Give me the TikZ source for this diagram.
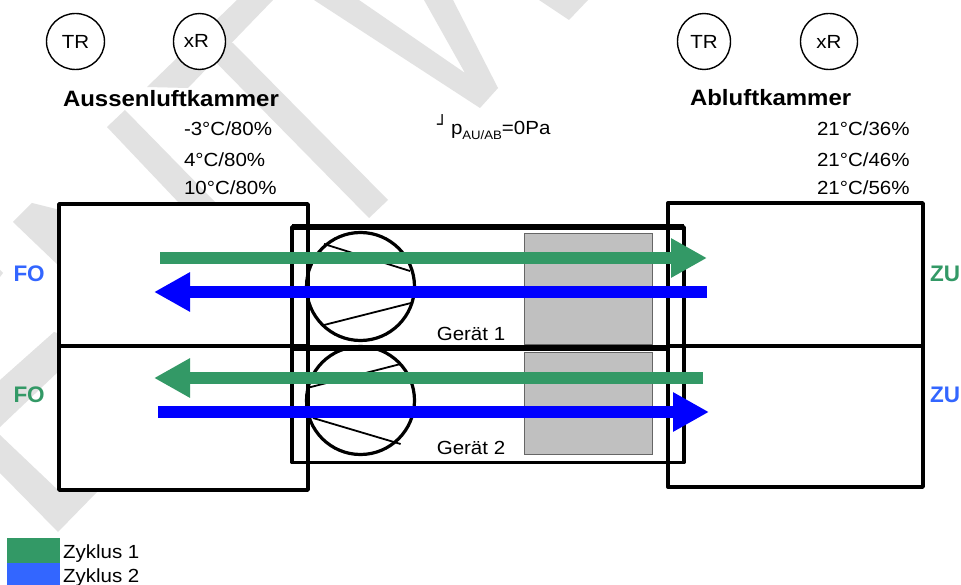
\documentclass[tikz,border=0pt]{standalone}
\usepackage{fontspec}
\setmainfont[FakeStretch=1.08]{Liberation Sans}
\newfontfamily\plainf{Liberation Sans}
\newfontfamily\boxf{DejaVu Sans}
\usetikzlibrary{arrows.meta,shapes.geometric}
\definecolor{wm}{HTML}{E2E2E2}
\definecolor{grn}{HTML}{339966}
\definecolor{blu}{HTML}{0000FF}
\definecolor{lblu}{HTML}{3366FF}
\definecolor{hx}{HTML}{C0C0C0}
\tikzset{x=1pt,y=-1pt,
 every node/.style={inner sep=0pt,outer sep=0pt,font=\fontsize{19}{22}\selectfont},
 device/.style={draw=black,line width=3.8pt,line join=round},
 devbar/.style={draw=black,line width=6pt},
 chamber/.style={draw=black,line width=3.4pt,line join=round,fill=white},
 divider/.style={draw=black,line width=3.2pt},
 sensor/.style={draw=black,fill=white,line width=1.4pt,ellipse},
 fan/.style={draw=black,line width=3.2pt,circle,minimum width=108pt},
 blade/.style={draw=black,line width=1.8pt},
 hxbox/.style={draw=black!60,fill=hx,line width=1pt,anchor=north west},
 flow/.style={line width=12.5pt,-{Triangle[length=36pt,width=37pt]}},
 head/.style={font=\fontsize{22.2}{26}\selectfont\bfseries,anchor=base west},
 side/.style={font=\fontsize{22.5}{26}\plainf\bfseries,anchor=base west},
 val/.style={anchor=base west}}
\begin{document}
\begin{tikzpicture}
\useasboundingbox (0,0) rectangle (961,585);
\fill[white] (0,0) rectangle (961,585);
% watermark
\fill[wm] (237,0) -- (273,0) -- (188,88) -- (147,87) -- cycle;
\fill[wm] (233,43) -- (388,200) -- (369,218) -- (195,41) -- cycle;
\fill[wm] (125,110) -- (217,204) -- (180,204) -- (107,127) -- cycle;
\fill[wm] (13,222) -- (32,203) -- (60,210) -- (60,267) -- cycle;
\fill[wm] (0,270) -- (3,273) -- (0,277) -- cycle;
\fill[wm] (54,332) -- (60,334) -- (60,370) -- (0,427) -- (0,380) -- cycle;
\fill[wm] (0,435) -- (60,492) -- (97,492) -- (58,532) -- (0,473) -- cycle;
\fill[wm] (314,0) -- (359,0) -- (465,73) -- (424,0) -- (453,0) -- (498,88) -- (480,108) -- cycle;
\fill[wm] (539,0) -- (588,0) -- (569,20) -- cycle;
% sensors
\node[sensor,minimum width=58pt,minimum height=56pt] (s1) at (75.5,41.5) {TR};
\node[sensor,minimum width=52pt,minimum height=56pt] (s2) at (199.5,41.5) {};
\node (s2t) at (196.5,41) {xR};
\node[sensor,minimum width=53pt,minimum height=56pt] (s3) at (704,41.5) {TR};
\node[sensor,minimum width=57pt,minimum height=56pt] (s4) at (829,41.5) {xR};
% headings and values
\node[head] (h1) at (63,107) {Aussenluftkammer};
\node[head] (h2) at (690,106) {Abluftkammer};
\node[val] (a1) at (184,136) {-3°C/80\%};
\node[val] (a2) at (184,167) {4°C/80\%};
\node[val] (a3) at (184,195) {10°C/80\%};
\node[val] (b1) at (817,136) {21°C/36\%};
\node[val] (b2) at (817,167) {21°C/46\%};
\node[val] (b3) at (817,195) {21°C/56\%};
\node[val,font=\fontsize{17}{20}\boxf] (dp) at (437,131) {┘};
\node[val] (p) at (451,135) {p\raisebox{-5pt}{\fontsize{12.2}{14}\selectfont AU/AB}=0Pa};
% chambers
\draw[chamber] (59,204) rectangle (308,490);
\draw[chamber] (668,203) rectangle (923,487);
% device contents
\fill[white] (292,227) rectangle (684,462);
\node[hxbox,minimum width=128pt,minimum height=111pt] (hx1) at (524,233.5) {};
\node[hxbox,minimum width=128pt,minimum height=102pt] (hx2) at (524,352) {};
\node[fan] (f1) at (360.5,286.5) {};
\node[fan] (f2) at (360.5,400.5) {};
\coordinate (b1a) at (324,244); \coordinate (b1b) at (410,271);
\coordinate (b1c) at (324,325); \coordinate (b1d) at (411,303);
\coordinate (b2a) at (307,388); \coordinate (b2b) at (400.6,364);
\coordinate (b2c) at (313,418); \coordinate (b2d) at (400.6,444);
\draw[blade] (b1a) -- (b1b); \draw[blade] (b1c) -- (b1d);
\draw[blade] (b2a) -- (b2b); \draw[blade] (b2c) -- (b2d);
% device frame
\draw[device] (292,227) rectangle (684,462.5);
\draw[device] (308,204) -- (308,490);
\draw[device] (668,203) -- (668,487);
\draw[devbar] (292,227) -- (684,227);
\draw[devbar] (292,347.5) -- (668,347.5);
\draw[divider] (59,346) -- (308,346);
\draw[divider] (668,346) -- (921,346);
\node[anchor=base] (g1) at (471,340) {Gerät 1};
\node[anchor=base] (g2) at (471,454) {Gerät 2};
% flows
\coordinate (g1s) at (160,258); \coordinate (g1e) at (707,258);
\coordinate (b1s) at (707,292); \coordinate (b1e) at (154,292);
\coordinate (g2s) at (703,378); \coordinate (g2e) at (154,378);
\coordinate (b2s) at (158,412); \coordinate (b2e) at (709,412);
\draw[flow,grn] (g1s) -- (g1e);
\draw[flow,blu] (b1s) -- (b1e);
\draw[flow,grn] (g2s) -- (g2e);
\draw[flow,blu] (b2s) -- (b2e);
\node[side,text=lblu] (fo1) at (13.5,282) {FO};
\node[side,text=grn] (fo2) at (13.5,402) {FO};
\node[side,text=grn] (zu1) at (930,282) {ZU};
\node[side,text=lblu] (zu2) at (930,402) {ZU};
\fill[grn] (7,538) rectangle (60,563);
\fill[lblu] (7,563) rectangle (60,585);
\node[val] (l1) at (63,558) {Zyklus 1};
\node[val] (l2) at (63,582) {Zyklus 2};
\end{tikzpicture}
\end{document}
